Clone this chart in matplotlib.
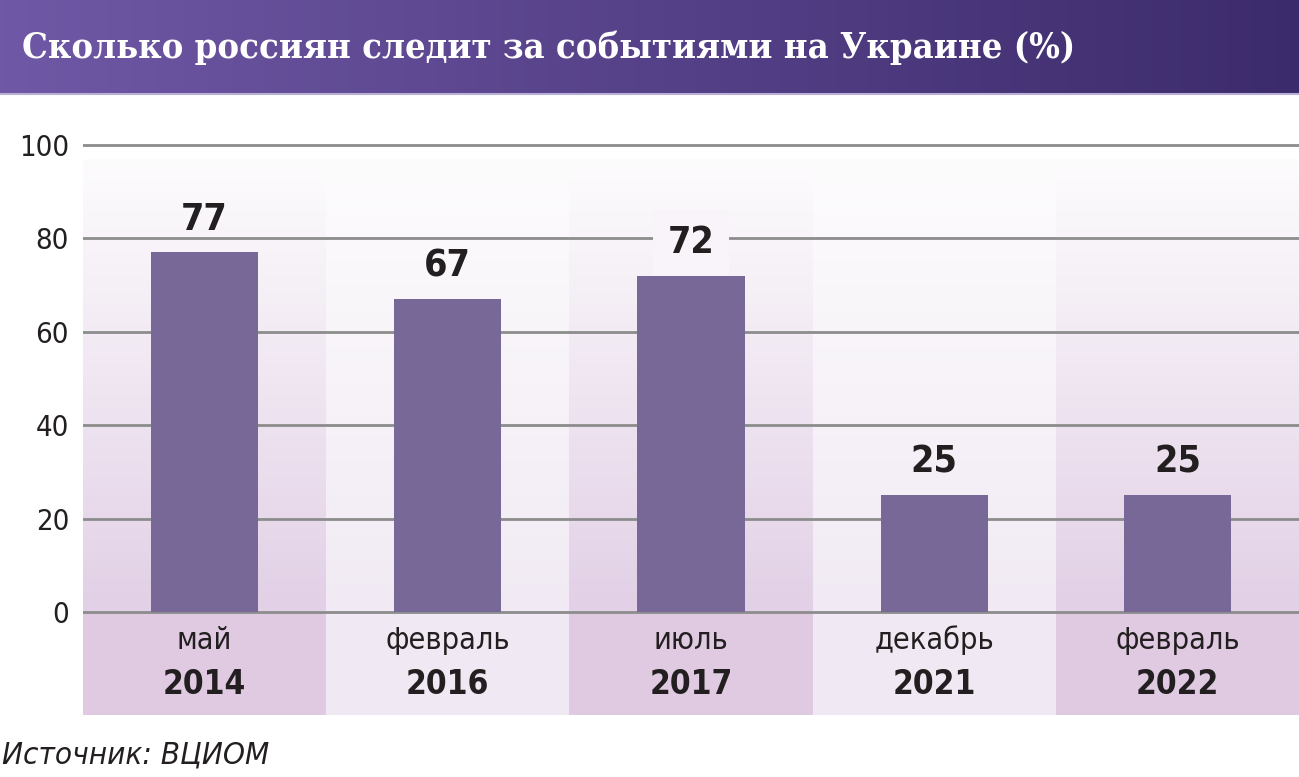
import numpy as np
import matplotlib.pyplot as plt
from matplotlib.colors import LinearSegmentedColormap

# data
months = ['май', 'февраль', 'июль', 'декабрь', 'февраль']
years = ['2014', '2016', '2017', '2021', '2022']
values = [77, 67, 72, 25, 25]
yticks = [0, 20, 40, 60, 80, 100]

title = 'Сколько россиян следит за событиями на Украине (%)'
source = 'Источник: ВЦИОМ'

NARROW = dict(family='DejaVu Sans', fontstretch='condensed')
TXT = '#231f20'
BAR = '#786897'
GRID = '#8c8c8c'

W, H = 1299, 777
fig = plt.figure(figsize=(W / 100, H / 100), dpi=100)
fig.patch.set_facecolor('white')

# header band with horizontal gradient
hdr = fig.add_axes([0, 1 - 93 / H, 1, 93 / H])
hcmap = LinearSegmentedColormap.from_list('hdr', ['#6f58a5', '#3c2b6c'])
hdr.imshow(np.linspace(0, 1, 256).reshape(1, -1), cmap=hcmap, aspect='auto',
           extent=[0, 1, 0, 1])
hdr.set_xlim(0, 1)
hdr.set_ylim(0, 1)
hdr.axis('off')
hdr.text(22 / W, 0.49, title, color='white', fontsize=26, fontweight='bold',
         family='DejaVu Serif', fontstretch='condensed', va='center', ha='left')
fig.add_artist(plt.Line2D([0, 1], [1 - 94 / H, 1 - 94 / H], color='#b9aed3',
                          lw=1.5, transform=fig.transFigure))

# main plot area
y_bot, y_top = -22.06, 101
ax_top_px = 612 - 101 * 4.67
ax = fig.add_axes([83 / W, (H - 715) / H, 1 - 83 / W, (715 - ax_top_px) / H])
x = np.arange(len(values))

# alternating column backgrounds
dark = ('#e2d0e6', '#dfcae2')
light = ('#f1eaf4', '#f0e8f3')
grad = np.linspace(0, 1, 256).reshape(-1, 1)
for i in x:
    c_mid, c_low = dark if i % 2 == 0 else light
    cm = LinearSegmentedColormap.from_list(f'c{i}', ['#fdfcfd', c_mid])
    ax.imshow(grad, cmap=cm, aspect='auto', extent=[i - 0.5, i + 0.5, 0, 97],
              zorder=0)
    ax.fill_between([i - 0.5, i + 0.5], y_bot, 0, color=c_low, lw=0, zorder=0)

for t in yticks:
    ax.axhline(t, color=GRID, lw=2, zorder=1)

ax.bar(x, values, width=0.44, color=BAR, zorder=2)

for i, v in enumerate(values):
    ty = v + 7
    box = None
    if min(abs(ty - g) for g in yticks) < 4:
        box = dict(boxstyle='square,pad=0.4', facecolor='#f8f4f9', edgecolor='none')
    ax.text(i, ty, str(v), ha='center', va='center', fontsize=27,
            fontweight='bold', color=TXT, bbox=box, zorder=3, **NARROW)
    ax.text(i, -6, months[i], ha='center', va='center', fontsize=22,
            color=TXT, zorder=3, **NARROW)
    ax.text(i, -15.6, years[i], ha='center', va='center', fontsize=24,
            fontweight='bold', color=TXT, zorder=3, **NARROW)

ax.set_xlim(-0.5, 4.5)
ax.set_ylim(y_bot, y_top)
ax.set_yticks(yticks)
ax.set_yticklabels([str(t) for t in yticks], fontsize=21, color=TXT, **NARROW)
ax.tick_params(axis='y', length=0, pad=10)
ax.set_xticks([])
for s in ax.spines.values():
    s.set_visible(False)
ax.patch.set_alpha(0)

fig.text(2 / W, 1 - 755 / H, source, fontsize=22.5, style='italic', color=TXT,
         va='center', ha='left', **NARROW)

fig.savefig('out.png', dpi=100)
